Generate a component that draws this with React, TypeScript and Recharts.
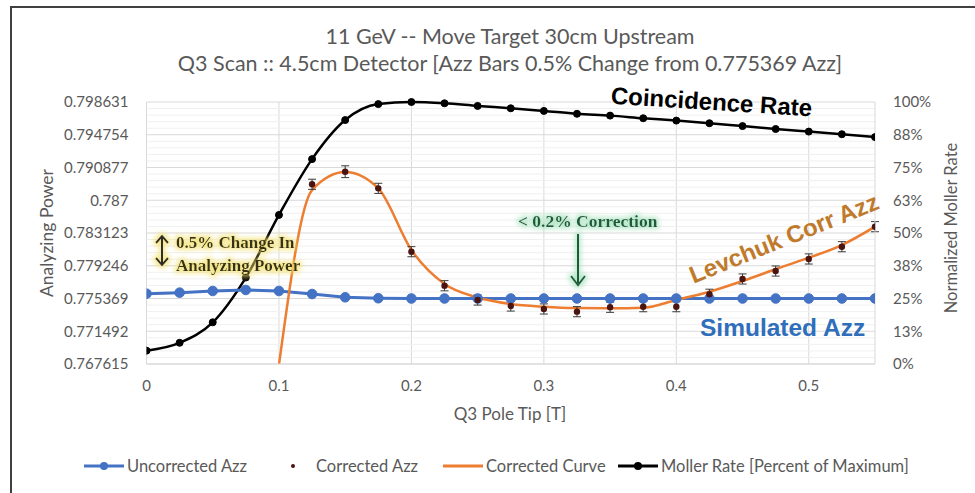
import { ComposedChart, Line, Scatter, ErrorBar, XAxis, YAxis, CartesianGrid, ReferenceLine } from 'recharts'

// Q3 pole tip settings [T]
const qPoints = [0, 0.025, 0.05, 0.075, 0.1, 0.125, 0.15, 0.175, 0.2, 0.225, 0.25, 0.275, 0.3, 0.325, 0.35, 0.375, 0.4, 0.425, 0.45, 0.475, 0.5, 0.525, 0.55]

// simulated (uncorrected) Azz
const uncorrectedAzz = [0.77594, 0.77606, 0.77626, 0.77638, 0.77626, 0.7759, 0.77551, 0.7754, 0.775369, 0.775369, 0.775369, 0.775369, 0.775369, 0.775369, 0.775369, 0.775369, 0.775369, 0.775369, 0.775369, 0.775369, 0.775369, 0.775369, 0.775369]

// Moller coincidence rate, percent of maximum
const mollerRate = [5.1, 8.1, 15.9, 33, 56.9, 78.2, 93.1, 99.2, 100, 99.5, 98.5, 97.6, 96.6, 95.5, 94.8, 93.8, 92.9, 91.9, 90.8, 89.7, 88.7, 87.7, 86.6]

// Levchuk corrected Azz points
const correctedQ = [0.125, 0.15, 0.175, 0.2, 0.225, 0.25, 0.275, 0.3, 0.325, 0.35, 0.375, 0.4, 0.425, 0.45, 0.475, 0.5, 0.525, 0.55]
const correctedAzz = [0.78889, 0.79038, 0.78841, 0.78091, 0.77688, 0.77519, 0.77448, 0.77413, 0.77381, 0.77433, 0.7744, 0.7744, 0.77587, 0.77768, 0.77862, 0.78005, 0.7815, 0.78387]
const correctedErr = [0.0006, 0.0007, 0.0006, 0.0006, 0.0006, 0.0006, 0.0006, 0.0006, 0.0006, 0.0006, 0.0006, 0.0006, 0.0006, 0.0006, 0.0006, 0.0006, 0.0006, 0.0006]

// fitted correction curve
const curveQ = [0.1, 0.125, 0.15, 0.175, 0.2, 0.225, 0.25, 0.275, 0.3, 0.325, 0.35, 0.375, 0.4, 0.425, 0.45, 0.475, 0.5, 0.525, 0.55]
const curveAzz = [0.7675, 0.78821, 0.79034, 0.7884, 0.78111, 0.77709, 0.77549, 0.77472, 0.7744, 0.77424, 0.77421, 0.77428, 0.7752, 0.77617, 0.77744, 0.77883, 0.7802, 0.7817, 0.78387]

const azzTicks = [0.767615, 0.771492, 0.775369, 0.779246, 0.783123, 0.787, 0.790877, 0.794754, 0.798631]
const rateTicks = [0, 12.5, 25, 37.5, 50, 62.5, 75, 87.5, 100]
const qTicks = [0, 0.1, 0.2, 0.3, 0.4, 0.5]

const mainData = qPoints.map((q, i) => ({ q, azz: uncorrectedAzz[i], rate: mollerRate[i] }))
const corrData = correctedQ.map((q, i) => ({ q, azz: correctedAzz[i], err: correctedErr[i] }))
const curveData = curveQ.map((q, i) => ({ q, azz: curveAzz[i] }))

// faint minor gridlines, 5 per major step
const minorLines: number[] = []
for (let i = 0; i < azzTicks.length - 1; i++) {
  const step = (azzTicks[i + 1] - azzTicks[i]) / 5
  for (let k = 1; k < 5; k++) minorLines.push(azzTicks[i] + step * k)
}

const FONT = 'Lato, "Open Sans", sans-serif'
const SANS = '"Liberation Sans", Arial, sans-serif'
const SERIF = '"Liberation Serif", serif'
const GREY = '#595959'
const tickStyle = { fontSize: 15, fill: GREY, fontFamily: FONT }

function CorrDot(props: any) {
  return <circle cx={props.cx} cy={props.cy} r={3.2} fill="#4a1410" />
}

function LegendItem({ kind, color, label, left }: { kind: string; color: string; label: string; left: number }) {
  return (
    <div style={{ position: 'absolute', left, top: 0, display: 'flex', alignItems: 'center', height: 20 }}>
      <svg width={40} height={20}>
        {kind !== 'dot' && <line x1={0} y1={10} x2={40} y2={10} stroke={color} strokeWidth={3} />}
        {kind === 'line-dot' && <circle cx={20} cy={10} r={4} fill={color} />}
        {kind === 'dot' && <circle cx={20} cy={10} r={2} fill={color} />}
      </svg>
      <span style={{ marginLeft: 3, fontSize: 16.5, color: GREY, fontFamily: FONT, whiteSpace: 'nowrap' }}>{label}</span>
    </div>
  )
}

export default function App() {
  return (
    <div style={{ position: 'relative', width: 975, height: 493, background: '#fff', overflow: 'hidden' }}>
      <style>{'body{margin:0}'}</style>
      <div style={{ position: 'absolute', left: 10, top: 6, width: 975, height: 500, borderLeft: '2px solid #404040', borderTop: '2px solid #404040' }} />
      <ComposedChart width={975} height={493} margin={{ top: 102, right: 0, bottom: 99, left: 0 }} style={{ position: 'absolute', left: 0, top: 0 }}>
        {minorLines.map((v) => (
          <ReferenceLine key={v} yAxisId="azz" y={v} stroke="#f0f0f0" strokeWidth={1} ifOverflow="hidden" />
        ))}
        <CartesianGrid yAxisId="azz" stroke="#d9d9d9" horizontalValues={azzTicks} verticalValues={qTicks} />
        <XAxis dataKey="q" type="number" domain={[0, 0.55]} ticks={qTicks} tickFormatter={(v: number) => String(v)} axisLine={{ stroke: '#d9d9d9' }} tickLine={false} tickSize={0} tickMargin={16} tick={tickStyle} height={30} allowDataOverflow />
        <YAxis yAxisId="azz" type="number" domain={[0.767615, 0.798631]} ticks={azzTicks} tickFormatter={(v: number) => String(v)} axisLine={false} tickLine={false} tickSize={0} tickMargin={18} tick={tickStyle} width={146.5} allowDataOverflow />
        <YAxis yAxisId="rate" orientation="right" type="number" domain={[0, 100]} ticks={rateTicks} tickFormatter={(v: number) => `${Math.round(v)}%`} axisLine={{ stroke: '#d9d9d9' }} tickLine={false} tickSize={0} tickMargin={18} tick={{ ...tickStyle, textAnchor: 'start' }} width={100} />
        <Line yAxisId="rate" data={mainData} dataKey="rate" type="monotone" stroke="#000" strokeWidth={2.5} dot={{ r: 3.5, fill: '#000', stroke: '#000', strokeWidth: 1 }} isAnimationActive={false} />
        <Line yAxisId="azz" data={mainData} dataKey="azz" type="linear" stroke="#4472C4" strokeWidth={3} dot={{ r: 4.8, fill: '#4472C4', stroke: '#4472C4', strokeWidth: 1 }} isAnimationActive={false} />
        <Line yAxisId="azz" data={curveData} dataKey="azz" type="monotone" stroke="#ED7D31" strokeWidth={2.5} dot={false} isAnimationActive={false} />
        <Scatter yAxisId="azz" data={corrData} dataKey="azz" shape={CorrDot} isAnimationActive={false}>
          <ErrorBar dataKey="err" direction="y" width={4} stroke="#3a3a3a" strokeWidth={1} />
        </Scatter>
      </ComposedChart>

      <svg width={975} height={493} style={{ position: 'absolute', left: 0, top: 0, pointerEvents: 'none' }}>
        <defs>
          <filter id="glowYellow" x="-20%" y="-60%" width="140%" height="220%">
            <feMorphology in="SourceAlpha" operator="dilate" radius={2} result="grown" />
            <feGaussianBlur in="grown" stdDeviation={2.5} result="soft" />
            <feFlood floodColor="#f3e06a" floodOpacity={0.75} />
            <feComposite in2="soft" operator="in" result="halo" />
            <feMerge>
              <feMergeNode in="halo" />
              <feMergeNode in="SourceGraphic" />
            </feMerge>
          </filter>
          <filter id="glowGreen" x="-20%" y="-60%" width="140%" height="220%">
            <feMorphology in="SourceAlpha" operator="dilate" radius={2} result="grown" />
            <feGaussianBlur in="grown" stdDeviation={2.5} result="soft" />
            <feFlood floodColor="#a9e3bf" floodOpacity={0.8} />
            <feComposite in2="soft" operator="in" result="halo" />
            <feMerge>
              <feMergeNode in="halo" />
              <feMergeNode in="SourceGraphic" />
            </feMerge>
          </filter>
        </defs>

        <text x={510} y={44} textAnchor="middle" fontSize={21.5} fill={GREY} fontFamily={FONT}>11 GeV -- Move Target 30cm Upstream</text>
        <text x={510} y={71} textAnchor="middle" fontSize={21.5} fill={GREY} fontFamily={FONT}>Q3 Scan :: 4.5cm Detector [Azz Bars 0.5% Change from 0.775369 Azz]</text>
        <text x={510} y={420} textAnchor="middle" fontSize={17} fill={GREY} fontFamily={FONT}>Q3 Pole Tip [T]</text>
        <text transform="translate(53,233) rotate(-90)" textAnchor="middle" fontSize={17.5} fill={GREY} fontFamily={FONT}>Analyzing Power</text>
        <text transform="translate(957,228) rotate(-90)" textAnchor="middle" fontSize={16.5} fill={GREY} fontFamily={FONT}>Normalized Moller Rate</text>

        <text transform="translate(711,110) rotate(3.6)" textAnchor="middle" fontSize={24} fontWeight="bold" fill="#000" fontFamily={SANS}>Coincidence Rate</text>
        <text transform="translate(787,246) rotate(-22)" textAnchor="middle" fontSize={24} fontWeight="bold" fill="#C07A2C" fontFamily={SANS}>Levchuk Corr Azz</text>
        <text x={700} y={336} fontSize={24.5} fontWeight="bold" fill="#2F6EBA" fontFamily={SANS}>Simulated Azz</text>

        <g filter="url(#glowGreen)">
          <text x={518} y={227} fontSize={17.5} fontWeight="bold" fill="#1D5B3B" fontFamily={SERIF}>&lt; 0.2% Correction</text>
          <line x1={578} y1={234} x2={578} y2={283} stroke="#1D5B3B" strokeWidth={2} />
          <path d="M571,276 L578,285 L585,276" fill="none" stroke="#1D5B3B" strokeWidth={2} />
        </g>

        <g filter="url(#glowYellow)">
          <text x={176} y={248} fontSize={17} fontWeight="bold" fill="#35301c" fontFamily={SERIF}>0.5% Change In</text>
          <text x={176} y={271} fontSize={17} fontWeight="bold" fill="#35301c" fontFamily={SERIF}>Analyzing Power</text>
          <line x1={162} y1={237} x2={162} y2={264} stroke="#2d2d2d" strokeWidth={2} />
          <path d="M156,243 L162,236 L168,243 M156,258 L162,265 L168,258" fill="none" stroke="#2d2d2d" strokeWidth={2} />
        </g>
      </svg>

      <div style={{ position: 'absolute', left: 0, top: 456, width: 975, height: 20 }}>
        <LegendItem kind="line-dot" color="#4472C4" label="Uncorrected Azz" left={84} />
        <LegendItem kind="dot" color="#4a1410" label="Corrected Azz" left={273} />
        <LegendItem kind="line" color="#ED7D31" label="Corrected Curve" left={443} />
        <LegendItem kind="line-dot" color="#000" label="Moller Rate [Percent of Maximum]" left={618} />
      </div>
    </div>
  )
}
